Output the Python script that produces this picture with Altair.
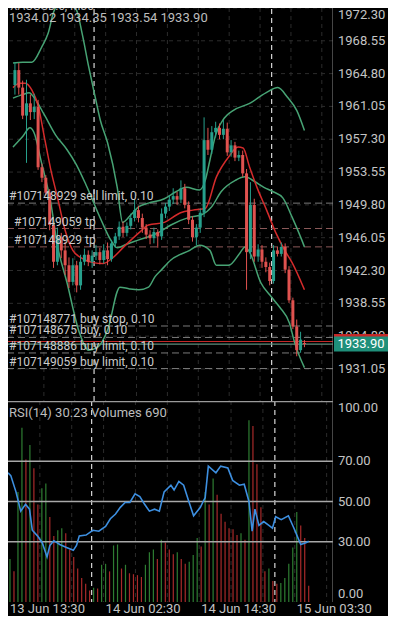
import altair as alt
import pandas as pd

# ---------------- data ----------------
bar_open = [1963.50, 1965.20, 1963.20, 1960.00, 1961.40, 1960.40, 1961.00, 1954.10, 1952.90, 1951.20,
            1947.50, 1943.30, 1946.10, 1944.60, 1942.90, 1941.00, 1942.90, 1940.60, 1943.30, 1944.10,
            1943.30, 1944.00, 1944.40, 1943.50, 1944.60, 1943.60, 1945.40, 1946.20, 1947.30, 1946.60,
            1947.40, 1948.30, 1949.20, 1948.30, 1947.20, 1946.40, 1946.00, 1946.70, 1946.20, 1948.80,
            1949.60, 1950.40, 1950.80, 1950.40, 1951.70, 1949.80, 1948.10, 1946.10, 1947.20, 1948.90,
            1957.20, 1956.10, 1958.10, 1958.60, 1957.80, 1958.50, 1955.80, 1956.60, 1955.20, 1955.50,
            1953.40, 1944.40, 1949.80, 1943.90, 1944.70, 1943.30, 1942.70, 1941.10, 1944.60, 1944.20,
            1945.00, 1942.40, 1938.90, 1935.90, 1933.20, 1934.02]
bar_high = [1966.10, 1966.00, 1964.00, 1964.10, 1962.40, 1962.50, 1961.80, 1954.50, 1953.20, 1951.60,
            1948.10, 1947.20, 1946.60, 1945.60, 1943.80, 1943.70, 1943.40, 1944.10, 1944.80, 1944.60,
            1944.60, 1945.20, 1944.90, 1945.30, 1945.50, 1945.80, 1946.60, 1947.90, 1947.90, 1947.80,
            1948.80, 1950.40, 1949.70, 1948.80, 1947.60, 1946.90, 1947.20, 1947.00, 1949.40, 1950.00,
            1950.90, 1951.70, 1951.30, 1952.60, 1952.20, 1950.20, 1948.50, 1947.60, 1949.40, 1959.80,
            1958.60, 1958.80, 1959.30, 1959.10, 1959.50, 1959.20, 1957.20, 1957.00, 1956.00, 1956.00,
            1953.90, 1952.40, 1950.50, 1945.30, 1945.20, 1943.80, 1943.20, 1945.20, 1945.00, 1945.50,
            1945.40, 1942.80, 1939.20, 1936.70, 1935.30, 1934.35]
bar_low = [1962.40, 1962.40, 1959.60, 1954.60, 1959.50, 1959.60, 1953.80, 1952.40, 1950.90, 1946.90,
           1942.60, 1942.90, 1943.70, 1941.80, 1940.30, 1940.60, 1939.80, 1940.10, 1942.90, 1942.80,
           1942.60, 1943.50, 1943.00, 1943.10, 1942.90, 1943.30, 1944.90, 1945.80, 1946.10, 1946.20,
           1947.00, 1947.90, 1947.80, 1946.60, 1945.90, 1945.30, 1945.40, 1944.90, 1945.80, 1948.30,
           1949.10, 1949.90, 1949.80, 1950.00, 1949.40, 1947.60, 1945.60, 1945.20, 1946.60, 1948.40,
           1955.50, 1955.60, 1957.50, 1957.30, 1957.30, 1955.40, 1955.30, 1954.80, 1954.80, 1953.00,
           1940.10, 1943.60, 1943.30, 1943.30, 1942.60, 1942.10, 1940.60, 1940.80, 1943.90, 1943.90,
           1942.00, 1938.60, 1935.60, 1932.50, 1932.90, 1933.54]
bar_close = [1965.20, 1963.20, 1960.00, 1961.40, 1960.40, 1961.00, 1954.10, 1952.90, 1951.20, 1947.50,
             1943.30, 1946.10, 1944.60, 1942.90, 1941.00, 1942.90, 1940.60, 1943.30, 1944.10, 1943.30,
             1944.00, 1944.40, 1943.50, 1944.60, 1943.60, 1945.40, 1946.20, 1947.30, 1946.60, 1947.40,
             1948.30, 1949.20, 1948.30, 1947.20, 1946.40, 1946.00, 1946.70, 1946.20, 1948.80, 1949.60,
             1950.40, 1950.80, 1950.40, 1951.70, 1949.80, 1948.10, 1946.10, 1947.20, 1948.90, 1957.20,
             1956.10, 1958.10, 1958.60, 1957.80, 1958.50, 1955.80, 1956.60, 1955.20, 1955.50, 1953.40,
             1944.40, 1949.80, 1943.90, 1944.70, 1943.30, 1942.70, 1941.10, 1944.60, 1944.20, 1945.00,
             1942.40, 1938.90, 1935.90, 1933.20, 1934.40, 1933.90]
volumes = [1830, 1300, 4670, 7390, 6050, 6660, 5680, 4140, 4830, 5030,
           3610, 2800, 3050, 3130, 2920, 2230, 1910, 1420, 1020, 770,
           490, 610, 570, 1580, 1620, 1300, 2400, 2440, 1420, 1580,
           1220, 1180, 1140, 1060, 1580, 2110, 2230, 1830, 2640, 2520,
           2230, 2030, 2110, 1830, 1620, 1710, 1990, 2720, 2360, 4670,
           4140, 5240, 4550, 3740, 3410, 3130, 3090, 2840, 2920, 2640,
           7710, 7470, 5850, 4020, 1300, 1420, 890, 770, 810, 1020,
           1620, 2310, 3820, 3250, 2720, 690]

upper_idx = [-0.5, 2, 4.4, 6.9, 8.6, 10, 11.8, 14.2, 15.9, 17.4, 19.1, 20.8, 22.1, 24, 26.5, 27.9, 30.1,
             32.1, 34.6, 38.7, 41.7, 44.4, 47.8, 49.3, 50.5, 52, 54.2, 56.6, 60.8, 65, 68.1, 70.6, 73, 75]
upper_val = [1966.0, 1966.1, 1966.1, 1967.8, 1969.4, 1971.8, 1972.9, 1972.6, 1972.1, 1969.4, 1965.6,
             1962.1, 1959.5, 1956.9, 1951.8, 1947.8, 1948.7, 1949.6, 1950.0, 1950.5, 1951.3, 1951.8,
             1951.5, 1952.6, 1954.9, 1957.8, 1959.7, 1960.6, 1961.4, 1962.6, 1963.2, 1962.1, 1960.6, 1958.3]
middle_idx = [-0.5, 2, 3.7, 4.9, 7.6, 10.5, 13.5, 15.9, 18.4, 22.3, 24.8, 26.5, 28.9, 32.1, 37, 40.4,
              45.3, 48.5, 51, 53.4, 57.1, 59.6, 62, 64.5, 66.9, 69.4, 71.8, 74.3, 75]
middle_val = [1962.0, 1962.4, 1962.6, 1962.1, 1960.1, 1957.8, 1956.1, 1954.4, 1952.1, 1948.1, 1945.8,
              1944.9, 1945.3, 1945.8, 1946.6, 1947.5, 1948.4, 1948.7, 1949.6, 1951.3, 1952.6, 1953.0,
              1952.5, 1951.8, 1951.3, 1950.6, 1948.4, 1945.8, 1945.0]
lower_idx = [-0.5, 2, 3.9, 4.9, 6.9, 9.3, 11, 13.5, 16.7, 19.1, 21.6, 24, 27.2, 29.7, 32.1, 34.6, 36.3,
             38, 40.4, 45.3, 47.8, 50.5, 52.2, 55.4, 58.3, 59.6, 60.8, 63.7, 66.4, 68.6, 71.1, 72.5, 75]
lower_val = [1956.4, 1957.6, 1958.6, 1958.1, 1954.6, 1950.0, 1945.2, 1940.9, 1935.2, 1933.2, 1933.6,
             1935.5, 1940.4, 1940.2, 1940.1, 1940.4, 1941.6, 1942.4, 1943.5, 1944.6, 1945.2, 1944.6,
             1942.9, 1942.9, 1944.3, 1945.0, 1944.4, 1940.9, 1939.3, 1938.1, 1936.3, 1934.0, 1931.2]
ma_idx = [-0.5, 1.2, 2.7, 4.4, 6.1, 7.6, 9.3, 11, 13, 15, 17.4, 20.3, 22.8, 25.2, 28.2, 32.1, 34.6,
          38.7, 42.9, 46.1, 49.3, 52.2, 55.4, 57.8, 59.1, 60.8, 62.7, 65.2, 67.6, 69.9, 71.8, 75]
ma_val = [1963.2, 1963.7, 1963.7, 1962.9, 1961.0, 1957.6, 1953.8, 1950.7, 1946.9, 1944.6, 1943.7,
          1943.2, 1943.1, 1943.7, 1945.0, 1946.6, 1947.5, 1947.8, 1948.9, 1949.2, 1949.4, 1953.0,
          1955.3, 1956.4, 1956.3, 1954.1, 1951.8, 1949.2, 1946.6, 1944.6, 1943.2, 1940.1]

rsi_idx = [-0.5, 0.2, 1.5, 2.7, 3.9, 4.9, 5.6, 6.9, 8.1, 9.3, 10, 11, 12.5, 14.2, 15.9, 16.7, 17.4,
           19.1, 20.8, 22.3, 24, 25.2, 26.5, 27.7, 28.9, 30.1, 31.4, 32.6, 33.8, 35, 36.3, 37.5, 38.7,
           40.4, 41.2, 42.4, 43.6, 44.9, 46.1, 47.8, 48.5, 49, 49.8, 51.7, 52.9, 54.7, 55.9, 57.6,
           58.8, 60, 60.8, 61.5, 62.5, 63.7, 65, 65.9, 66.7, 68.1, 69.9, 71.3, 73, 74.3, 75]
rsi_val = [64.3, 62.9, 54.8, 45.2, 48.6, 46.2, 35.7, 32.9, 29.5, 22.4, 28.1, 30.5, 28.6, 27.1, 25.7,
           28.1, 32.9, 33.3, 35.7, 35.2, 37.6, 41.4, 43.8, 47.1, 49.5, 49.5, 53.8, 52.4, 48.6, 45.2,
           46.2, 45.2, 54.8, 58.1, 55.7, 60.0, 58.1, 50.0, 42.9, 47.1, 50.0, 51.9, 67.6, 64.3, 67.6,
           66.7, 60.5, 58.1, 58.6, 50.0, 35.2, 46.2, 38.1, 40.0, 38.1, 36.7, 42.4, 41.0, 42.9, 36.7,
           28.6, 29.5, 30.23]

order_prices = [1950.00, 1947.10, 1945.00, 1935.96, 1934.65, 1932.88, 1931.10]
order_labels = ["#107148929 sell limit, 0.10", "#107149059 tp", "#107148929 tp",
                "#107148771 buy stop, 0.10", "#107148675 buy, 0.10",
                "#107148886 buy limit, 0.10", "#107149059 buy limit, 0.10"]
order_kinds = ["order", "tp", "tp", "order", "order", "order", "order"]

bid_price = 1933.90
ask_price = 1934.19
symbol_title = "XAUUSD.c, M30"
rsi_title = "RSI(14) 30.23 Volumes 690"

price_ticks = [1972.30, 1968.55, 1964.80, 1961.05, 1957.30, 1953.55, 1949.80,
               1946.05, 1942.30, 1938.55, 1934.80, 1931.05]
rsi_ticks = [0, 30, 50, 70, 100]
rsi_levels = [30, 50, 70]
time_idx = [0, 24, 48, 72]
time_labels = ["13 Jun 13:30", "14 Jun 02:30", "14 Jun 14:30", "15 Jun 03:30"]
grid_idx = [7.5, 15.5, 23.5, 31.5, 39.5, 47.5, 55.5, 63.5, 71.5, 79.5]
day_sep_idx = [20.5, 66.5]

# ---------------- styling ----------------
W, H_TOP, H_BOT = 325, 401, 201
UP, DOWN = "#26a08c", "#e0524f"
VOL_UP, VOL_DOWN = "#2e7d32", "#a82a2a"
BAND, MA, RSI_C = "#47a374", "#d42b2b", "#3d8fe0"
LABEL = "#c4c4c4"
AXISLINE = "#8c8c8c"
FONT = "Roboto"

n = len(bar_open)
idx = list(range(n))
candles = pd.DataFrame({"idx": idx, "open": bar_open, "high": bar_high,
                        "low": bar_low, "close": bar_close})
candles["up"] = [c >= o for o, c in zip(bar_open, bar_close)]

vol_up = [True] + [volumes[i] > volumes[i - 1] for i in range(1, n)]
vol_df = pd.DataFrame({"idx": idx, "vol": volumes, "base": [0] * n, "up": vol_up})

bands_df = pd.concat([
    pd.DataFrame({"idx": upper_idx, "price": upper_val, "band": "upper"}),
    pd.DataFrame({"idx": middle_idx, "price": middle_val, "band": "middle"}),
    pd.DataFrame({"idx": lower_idx, "price": lower_val, "band": "lower"}),
])
ma_df = pd.DataFrame({"idx": ma_idx, "price": ma_val})
rsi_df = pd.DataFrame({"idx": rsi_idx, "rsi": rsi_val})
orders_df = pd.DataFrame({"price": order_prices, "label": order_labels, "kind": order_kinds})
grid_df = pd.DataFrame({"idx": grid_idx})
sep_df = pd.DataFrame({"idx": day_sep_idx})
bid_df = pd.DataFrame({"price": [bid_price], "label": [f"{bid_price:.2f}"]})
ask_df = pd.DataFrame({"price": [ask_price]})
pt_df = pd.DataFrame({"price": price_ticks})
rt_df = pd.DataFrame({"rsi": rsi_ticks})
tl_df = pd.DataFrame({"idx": time_idx, "label": time_labels})
one = pd.DataFrame({"a": [0]})
last = n - 1
ohlc_text = f"{bar_open[last]:.2f} {bar_high[last]:.2f} {bar_low[last]:.2f} {bar_close[last]:.2f}"
top_tick = max(price_ticks)

xscale = alt.Scale(domain=[-0.5, 81.1], nice=False, zero=False)
pscale = alt.Scale(domain=[1927.39, 1973.21], nice=False, zero=False)
rscale = alt.Scale(domain=[0, 100], nice=False, zero=False)
vscale = alt.Scale(domain=[0, 8530], nice=False, zero=True)


def X():
    return alt.X("idx:Q", scale=xscale, axis=None)


def P(field="price"):
    return alt.Y(f"{field}:Q", scale=pscale, axis=None)


def R(field="rsi"):
    return alt.Y(f"{field}:Q", scale=rscale, axis=None)


lab = dict(font=FONT, fontSize=13, color=LABEL)

# ---------------- top panel ----------------
t_hgrid = alt.Chart(pt_df).mark_rule(color="#2c2c2c", strokeDash=[4, 4], clip=True).encode(y=P())
t_grid = alt.Chart(grid_df).mark_rule(color="#2c2c2c", strokeDash=[4, 4], clip=True).encode(x=X())
t_sep = alt.Chart(sep_df).mark_rule(color="#d6d6d6", strokeDash=[5, 4], strokeWidth=1.2,
                                    clip=True).encode(x=X())
t_ord = alt.Chart(orders_df).transform_filter("datum.kind != 'tp'").mark_rule(
    strokeDash=[7, 4], strokeWidth=1, color="#7a7a7a", clip=True).encode(y=P())
t_tp = alt.Chart(orders_df).transform_filter("datum.kind == 'tp'").mark_rule(
    strokeDash=[7, 4], strokeWidth=1, color="#8a5858", clip=True).encode(y=P())
t_ask = alt.Chart(ask_df).mark_rule(strokeWidth=1.2, color="#c62828", clip=True).encode(y=P())
t_bid = alt.Chart(bid_df).mark_rule(strokeWidth=1.2, color="#5c8c7a", clip=True).encode(y=P())
t_bands = alt.Chart(bands_df).mark_line(color=BAND, strokeWidth=1.5, interpolate="monotone",
                                         clip=True).encode(x=X(), y=P(), detail="band:N")
t_ma = alt.Chart(ma_df).mark_line(color=MA, strokeWidth=1.5, interpolate="monotone",
                                   clip=True).encode(x=X(), y=P())
cand_up = alt.Chart(candles).transform_filter("datum.up")
cand_dn = alt.Chart(candles).transform_filter("!datum.up")
t_wick_up = cand_up.mark_rule(strokeWidth=1, color=UP, clip=True).encode(x=X(), y=P("low"), y2="high")
t_wick_dn = cand_dn.mark_rule(strokeWidth=1, color=DOWN, clip=True).encode(x=X(), y=P("low"), y2="high")
t_body_up = cand_up.mark_bar(size=3, color=UP, clip=True).encode(x=X(), y=P("open"), y2="close")
t_body_dn = cand_dn.mark_bar(size=3, color=DOWN, clip=True).encode(x=X(), y=P("open"), y2="close")
txt = dict(align="left", baseline="middle", font=FONT, fontSize=12, color="#cccccc", dy=-7)
t_otext1 = alt.Chart(orders_df).transform_filter("datum.kind != 'tp'").mark_text(**txt).encode(
    x=alt.value(1), y=P(), text="label:N")
t_otext2 = alt.Chart(orders_df).transform_filter("datum.kind == 'tp'").mark_text(**txt).encode(
    x=alt.value(6), y=P(), text="label:N")
t_title = alt.Chart(one).mark_text(align="left", baseline="middle", font=FONT, fontSize=12,
                                   color="#bdbdbd", clip=True).encode(
    x=alt.value(2), y=alt.value(6), text=alt.value(symbol_title))
t_ohlc = alt.Chart(one).mark_text(align="left", baseline="middle", font=FONT, fontSize=13,
                                  color="#bdbdbd").encode(
    x=alt.value(1), y=alt.value(18), text=alt.value(ohlc_text))
t_domain = alt.Chart(one).mark_rule(color=AXISLINE, strokeWidth=1, clip=True).encode(
    x=alt.value(W), y=alt.value(0), y2=alt.value(H_TOP))
t_labels = alt.Chart(pt_df).transform_filter(f"datum.price < {top_tick}").mark_text(
    align="left", baseline="middle", **lab).encode(
    x=alt.value(W + 5), y=P(), text=alt.Text("price:Q", format=".2f"))
t_label_top = alt.Chart(pt_df).transform_filter(f"datum.price >= {top_tick}").mark_text(
    align="left", baseline="top", dy=1, **lab).encode(
    x=alt.value(W + 5), y=P(), text=alt.Text("price:Q", format=".2f"))
t_askbox = alt.Chart(ask_df).mark_tick(orient="horizontal", thickness=15, size=54,
                                       color="#c62828", opacity=1).encode(x=alt.value(W + 28), y=P())
t_bidbox = alt.Chart(bid_df).mark_tick(orient="horizontal", thickness=15, size=54,
                                       color="#1f8f7a", opacity=1).encode(x=alt.value(W + 28), y=P())
t_boxtext = alt.Chart(bid_df).mark_text(font=FONT, fontSize=13, color="#ffffff", align="center",
                                        baseline="middle").encode(
    x=alt.value(W + 28), y=P(), text="label:N")

top = alt.layer(t_hgrid, t_grid, t_sep, t_ord, t_tp, t_ask, t_bid, t_bands, t_ma,
                t_wick_up, t_wick_dn, t_body_up, t_body_dn, t_otext1, t_otext2,
                t_title, t_ohlc, t_domain, t_labels, t_label_top, t_askbox, t_bidbox, t_boxtext
                ).properties(width=W, height=H_TOP)

# ---------------- bottom panel ----------------
b_grid = alt.Chart(grid_df).mark_rule(color="#2c2c2c", strokeDash=[4, 4], clip=True).encode(x=X())
b_sep = alt.Chart(sep_df).mark_rule(color="#d6d6d6", strokeDash=[5, 4], strokeWidth=1.2,
                                    clip=True).encode(x=X())
b_vol_up = alt.Chart(vol_df).transform_filter("datum.up").mark_rule(
    strokeWidth=1.2, color=VOL_UP, clip=True).encode(
    x=X(), y=alt.Y("vol:Q", scale=vscale, axis=None), y2="base")
b_vol_dn = alt.Chart(vol_df).transform_filter("!datum.up").mark_rule(
    strokeWidth=1.2, color=VOL_DOWN, clip=True).encode(
    x=X(), y=alt.Y("vol:Q", scale=vscale, axis=None), y2="base")
vol_group = alt.layer(b_vol_up, b_vol_dn)
lvl_df = pd.DataFrame({"rsi": rsi_levels})
b_levels = alt.Chart(lvl_df).mark_rule(color="#a8a8a8", strokeWidth=1.6, clip=True).encode(y=R())
b_border = alt.Chart(pd.DataFrame({"rsi": [100]})).mark_rule(
    color="#9a9a9a", strokeWidth=2.4, clip=True).encode(y=R())
b_rsi = alt.Chart(rsi_df).mark_line(color=RSI_C, strokeWidth=1.6, clip=True).encode(x=X(), y=R())
b_title = alt.Chart(one).mark_text(align="left", baseline="middle", font=FONT, fontSize=13,
                                   color="#bdbdbd").encode(
    x=alt.value(1), y=alt.value(12), text=alt.value(rsi_title))
b_domain = alt.Chart(one).mark_rule(color=AXISLINE, strokeWidth=1, clip=True).encode(
    x=alt.value(W), y=alt.value(0), y2=alt.value(H_BOT))
b_lab_mid = alt.Chart(rt_df).transform_filter("datum.rsi > 0 && datum.rsi < 100").mark_text(
    align="left", baseline="middle", **lab).encode(
    x=alt.value(W + 5), y=R(), text=alt.Text("rsi:Q", format=".2f"))
b_lab_top = alt.Chart(rt_df).transform_filter("datum.rsi >= 100").mark_text(
    align="left", baseline="top", dy=1, **lab).encode(
    x=alt.value(W + 5), y=R(), text=alt.Text("rsi:Q", format=".2f"))
b_lab_bot = alt.Chart(rt_df).transform_filter("datum.rsi <= 0").mark_text(
    align="left", baseline="bottom", dy=-1, **lab).encode(
    x=alt.value(W + 5), y=R(), text=alt.Text("rsi:Q", format=".2f"))
b_time = alt.Chart(tl_df).mark_text(align="left", baseline="top", **lab).encode(
    x=X(), y=alt.value(H_BOT + 1), text="label:N")
rsi_group = alt.layer(b_levels, b_border, b_rsi, b_title, b_lab_mid, b_lab_top, b_lab_bot)
bottom = alt.layer(b_grid, b_sep, vol_group, rsi_group, b_domain, b_time).resolve_scale(
    y="independent").properties(width=W, height=H_BOT)

chart = alt.vconcat(top, bottom, spacing=0).properties(
    background="#000000", padding={"left": 0, "top": -8, "right": 0, "bottom": 0}
).configure(font=FONT).configure_view(stroke=None)

chart.save("out.html", embed_options={"renderer": "svg", "actions": False})
